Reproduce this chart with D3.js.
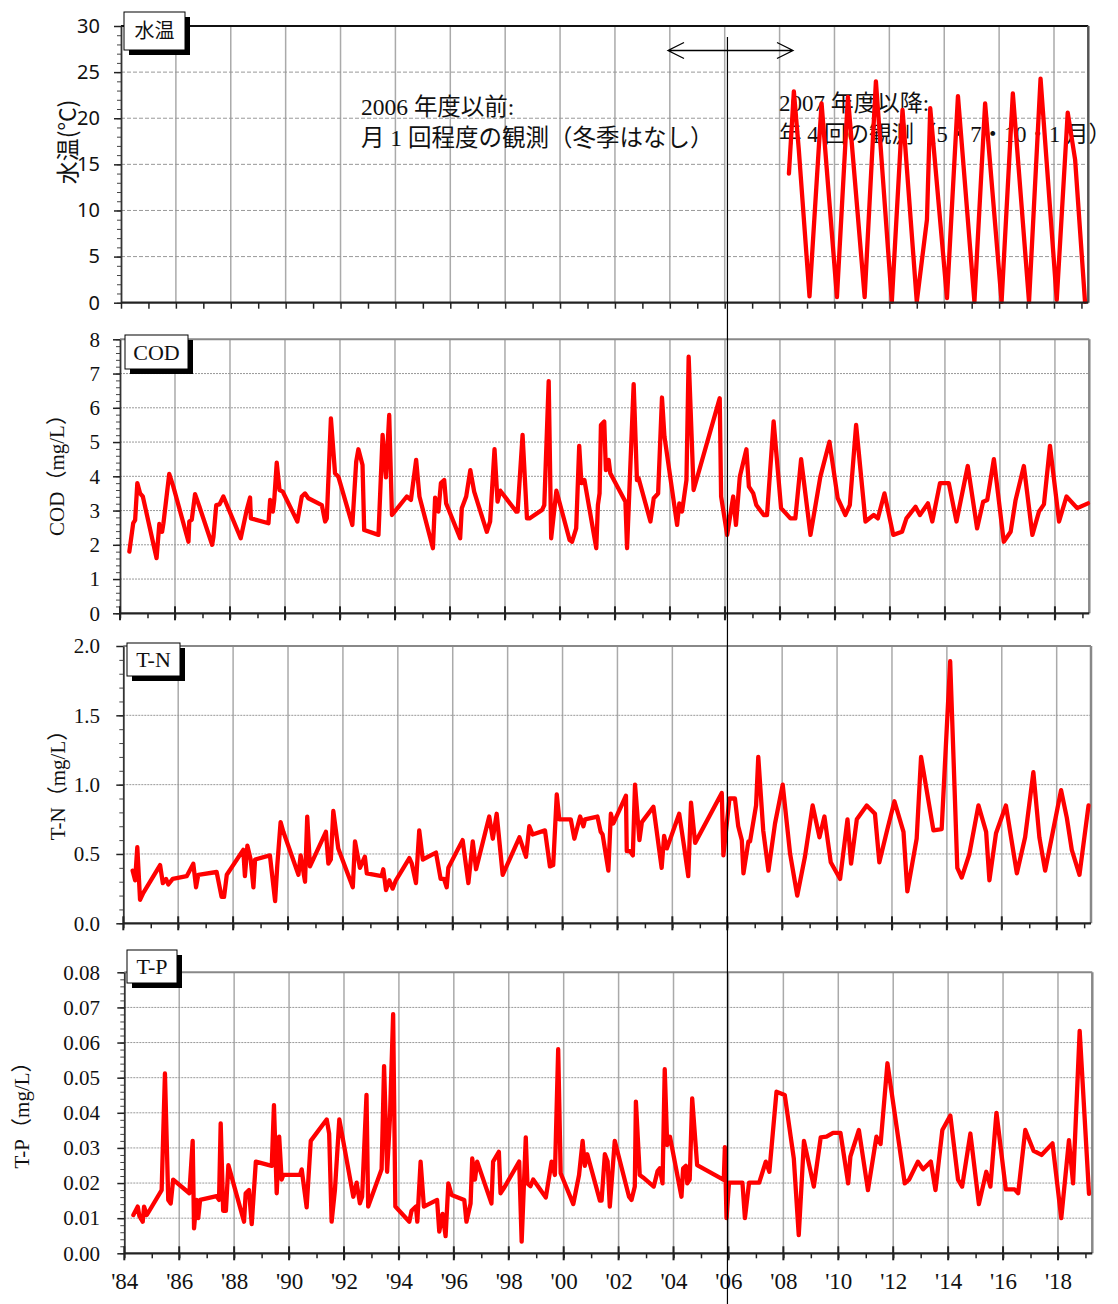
<!DOCTYPE html>
<html>
<head>
<meta charset="utf-8">
<script src="https://cdn.jsdelivr.net/npm/d3@7"></script>
<style>
  body { margin: 0; background: #fff; }
</style>
</head>
<body>
<svg id="chart" width="1118" height="1304"></svg>
<script>
// x tick labels (every 2 years)
const xTickYears = d3.range(1984, 2019, 2);
const xTickLabels = ["'84", "'86", "'88", "'90", "'92", "'94", "'96", "'98", "'00",
  "'02", "'04", "'06", "'08", "'10", "'12", "'14", "'16", "'18"];

// water temperature (only 2007 FY onward), [decimal year, value]
const waterTemp = [
  [2008.34, 14.0], [2008.52, 22.9], [2008.70, 16.6], [2009.09, 0.7], [2009.53, 21.6],
  [2010.09, 0.6], [2010.49, 22.3], [2011.10, 0.6], [2011.51, 24.0], [2012.09, 0.1],
  [2012.48, 20.9], [2013.00, 0.1], [2013.37, 9.0], [2013.49, 21.1], [2014.10, 0.5],
  [2014.50, 22.4], [2015.10, 0.1], [2015.49, 21.6], [2016.09, 0.1], [2016.50, 22.7],
  [2017.09, 0.1], [2017.51, 24.3], [2018.10, 0.3], [2018.50, 20.6], [2018.77, 15.5],
  [2019.13, 0.1]
];

// COD (mg/L)
const cod = [
  [1984.34, 1.80], [1984.48, 2.63], [1984.55, 2.72], [1984.63, 3.80], [1984.73, 3.50],
  [1984.83, 3.41], [1985.33, 1.61], [1985.43, 2.61], [1985.53, 2.38], [1985.58, 2.63],
  [1985.79, 4.07], [1985.94, 3.70], [1986.49, 2.09], [1986.52, 2.68], [1986.61, 2.73],
  [1986.73, 3.48], [1986.89, 3.11], [1987.35, 2.00], [1987.40, 2.24], [1987.50, 3.16],
  [1987.62, 3.18], [1987.76, 3.41], [1988.39, 2.19], [1988.61, 3.02], [1988.73, 3.38],
  [1988.76, 2.77], [1989.40, 2.63], [1989.46, 3.31], [1989.56, 2.97], [1989.61, 3.31],
  [1989.70, 4.40], [1989.80, 3.60], [1989.92, 3.55], [1990.45, 2.68], [1990.61, 3.41],
  [1990.73, 3.50], [1990.85, 3.36], [1991.34, 3.16], [1991.46, 2.68], [1991.52, 2.77],
  [1991.67, 5.69], [1991.82, 4.09], [1991.94, 3.99], [1992.45, 2.58], [1992.59, 4.43],
  [1992.67, 4.79], [1992.82, 4.33], [1992.88, 2.43], [1993.40, 2.29], [1993.55, 5.21],
  [1993.67, 3.97], [1993.79, 5.79], [1993.89, 2.87], [1994.43, 3.41], [1994.58, 3.31],
  [1994.77, 4.48], [1994.89, 3.41], [1995.38, 1.90], [1995.46, 3.38], [1995.58, 2.97],
  [1995.67, 3.80], [1995.79, 3.89], [1995.86, 3.21], [1996.37, 2.19], [1996.43, 3.07],
  [1996.59, 3.41], [1996.74, 4.18], [1996.88, 3.55], [1997.34, 2.38], [1997.46, 2.68],
  [1997.62, 4.79], [1997.73, 3.26], [1997.83, 3.58], [1998.41, 2.97], [1998.46, 2.97],
  [1998.64, 5.21], [1998.80, 2.77], [1998.89, 2.77], [1999.35, 3.02], [1999.43, 3.16],
  [1999.59, 6.78], [1999.68, 2.19], [1999.87, 3.58], [2000.35, 2.14], [2000.44, 2.09],
  [2000.59, 2.48], [2000.70, 4.89], [2000.78, 3.80], [2000.89, 3.89], [2001.32, 1.90],
  [2001.38, 3.16], [2001.44, 3.50], [2001.49, 5.50], [2001.61, 5.60], [2001.67, 4.18],
  [2001.77, 4.48], [2001.83, 4.09], [2002.38, 3.26], [2002.44, 1.90], [2002.68, 6.69],
  [2002.80, 3.89], [2002.86, 3.94], [2003.29, 2.68], [2003.41, 3.36], [2003.57, 3.50],
  [2003.71, 6.30], [2003.80, 5.16], [2004.26, 2.58], [2004.34, 3.21], [2004.44, 2.97],
  [2004.60, 3.89], [2004.68, 7.49], [2004.86, 3.60], [2005.81, 6.28], [2005.86, 3.41],
  [2006.08, 2.29], [2006.30, 3.41], [2006.40, 2.58], [2006.54, 3.99], [2006.78, 4.79],
  [2006.87, 3.70], [2007.03, 3.50], [2007.14, 3.16], [2007.41, 2.87], [2007.53, 2.87],
  [2007.77, 5.60], [2008.04, 3.07], [2008.38, 2.77], [2008.56, 2.77], [2008.77, 4.50],
  [2009.11, 2.29], [2009.47, 3.99], [2009.80, 5.01], [2010.10, 3.36], [2010.38, 2.87],
  [2010.54, 3.16], [2010.77, 5.50], [2011.11, 2.68], [2011.41, 2.87], [2011.56, 2.77],
  [2011.80, 3.50], [2012.12, 2.29], [2012.44, 2.38], [2012.60, 2.77], [2012.93, 3.11],
  [2013.09, 2.87], [2013.38, 3.21], [2013.54, 2.68], [2013.82, 3.80], [2014.14, 3.80],
  [2014.42, 2.68], [2014.83, 4.30], [2015.17, 2.48], [2015.39, 3.26], [2015.54, 3.31],
  [2015.78, 4.50], [2016.14, 2.09], [2016.39, 2.38], [2016.57, 3.31], [2016.87, 4.30],
  [2017.18, 2.29], [2017.42, 2.97], [2017.60, 3.18], [2017.82, 4.89], [2018.15, 2.68],
  [2018.42, 3.41], [2018.81, 3.07], [2019.20, 3.21]
];

// T-N (mg/L)
const tn = [
  [1984.34, 0.38], [1984.43, 0.31], [1984.51, 0.55], [1984.61, 0.17], [1984.73, 0.22],
  [1985.34, 0.42], [1985.44, 0.29], [1985.56, 0.32], [1985.64, 0.28], [1985.80, 0.32],
  [1986.31, 0.34], [1986.55, 0.43], [1986.65, 0.26], [1986.73, 0.35], [1987.40, 0.37],
  [1987.58, 0.19], [1987.67, 0.19], [1987.77, 0.35], [1988.37, 0.53], [1988.43, 0.34],
  [1988.52, 0.56], [1988.64, 0.46], [1988.74, 0.26], [1988.80, 0.46], [1989.34, 0.49],
  [1989.53, 0.16], [1989.61, 0.42], [1989.73, 0.73], [1989.83, 0.66], [1990.38, 0.35],
  [1990.46, 0.49], [1990.62, 0.30], [1990.70, 0.77], [1990.80, 0.41], [1991.38, 0.66],
  [1991.47, 0.43], [1991.56, 0.46], [1991.65, 0.81], [1991.83, 0.54], [1992.36, 0.26],
  [1992.44, 0.59], [1992.62, 0.40], [1992.80, 0.48], [1992.87, 0.36], [1993.41, 0.34],
  [1993.47, 0.39], [1993.57, 0.24], [1993.69, 0.31], [1993.81, 0.25], [1993.93, 0.31],
  [1994.42, 0.47], [1994.51, 0.43], [1994.66, 0.29], [1994.78, 0.67], [1994.91, 0.46],
  [1995.39, 0.51], [1995.56, 0.32], [1995.68, 0.32], [1995.78, 0.26], [1995.84, 0.40],
  [1996.36, 0.60], [1996.57, 0.29], [1996.73, 0.59], [1996.85, 0.39], [1997.33, 0.77],
  [1997.46, 0.61], [1997.60, 0.79], [1997.82, 0.35], [1998.43, 0.62], [1998.67, 0.48],
  [1998.79, 0.70], [1998.91, 0.64], [1999.36, 0.67], [1999.54, 0.41], [1999.66, 0.42],
  [1999.79, 0.93], [1999.88, 0.75], [2000.30, 0.75], [2000.43, 0.61], [2000.64, 0.77],
  [2000.76, 0.70], [2000.82, 0.75], [2001.27, 0.77], [2001.39, 0.66], [2001.46, 0.64],
  [2001.67, 0.38], [2001.76, 0.79], [2001.85, 0.72], [2002.31, 0.92], [2002.34, 0.52],
  [2002.46, 0.52], [2002.56, 0.49], [2002.64, 1.00], [2002.80, 0.60], [2002.89, 0.73],
  [2003.31, 0.84], [2003.61, 0.40], [2003.70, 0.63], [2003.80, 0.54], [2004.25, 0.79],
  [2004.43, 0.55], [2004.58, 0.34], [2004.68, 0.87], [2004.83, 0.58], [2005.80, 0.94],
  [2005.86, 0.49], [2006.08, 0.90], [2006.28, 0.90], [2006.40, 0.70], [2006.53, 0.60],
  [2006.59, 0.36], [2006.77, 0.59], [2006.83, 0.59], [2007.05, 0.85], [2007.13, 1.20],
  [2007.31, 0.67], [2007.50, 0.38], [2007.74, 0.72], [2008.02, 1.00], [2008.29, 0.50],
  [2008.55, 0.20], [2008.83, 0.48], [2009.11, 0.85], [2009.36, 0.62], [2009.54, 0.77],
  [2009.77, 0.44], [2010.11, 0.32], [2010.38, 0.75], [2010.51, 0.43], [2010.72, 0.75],
  [2011.08, 0.85], [2011.38, 0.79], [2011.54, 0.44], [2011.81, 0.66], [2012.09, 0.88],
  [2012.42, 0.66], [2012.56, 0.23], [2012.90, 0.61], [2013.06, 1.20], [2013.51, 0.67],
  [2013.81, 0.68], [2014.12, 1.89], [2014.38, 0.40], [2014.54, 0.33], [2014.82, 0.50],
  [2015.15, 0.85], [2015.43, 0.66], [2015.55, 0.31], [2015.79, 0.65], [2016.15, 0.85],
  [2016.55, 0.36], [2016.85, 0.62], [2017.15, 1.09], [2017.37, 0.62], [2017.58, 0.38],
  [2017.88, 0.68], [2018.16, 0.96], [2018.37, 0.76], [2018.55, 0.53], [2018.83, 0.35],
  [2019.16, 0.85]
];

// T-P (mg/L)
const tp = [
  [1984.33, 0.0109], [1984.49, 0.0133], [1984.55, 0.0106], [1984.67, 0.0090], [1984.72, 0.0133],
  [1984.82, 0.0109], [1985.36, 0.0180], [1985.48, 0.0512], [1985.60, 0.0152], [1985.69, 0.0142],
  [1985.78, 0.0210], [1986.37, 0.0171], [1986.49, 0.0320], [1986.54, 0.0071], [1986.63, 0.0152],
  [1986.69, 0.0100], [1986.76, 0.0152], [1987.36, 0.0163], [1987.45, 0.0152], [1987.51, 0.0370],
  [1987.60, 0.0121], [1987.70, 0.0121], [1987.79, 0.0251], [1988.36, 0.0090], [1988.42, 0.0171],
  [1988.54, 0.0180], [1988.64, 0.0083], [1988.79, 0.0261], [1989.37, 0.0249], [1989.45, 0.0422],
  [1989.55, 0.0171], [1989.64, 0.0332], [1989.73, 0.0210], [1989.79, 0.0223], [1990.40, 0.0223],
  [1990.46, 0.0239], [1990.64, 0.0131], [1990.79, 0.0320], [1991.37, 0.0381], [1991.46, 0.0341],
  [1991.55, 0.0090], [1991.67, 0.0180], [1991.83, 0.0381], [1992.34, 0.0161], [1992.46, 0.0201],
  [1992.58, 0.0142], [1992.66, 0.0161], [1992.82, 0.0451], [1992.88, 0.0133], [1993.37, 0.0239],
  [1993.46, 0.0533], [1993.57, 0.0232], [1993.67, 0.0379], [1993.79, 0.0681], [1993.87, 0.0133],
  [1994.38, 0.0090], [1994.46, 0.0121], [1994.62, 0.0133], [1994.67, 0.0090], [1994.79, 0.0261],
  [1994.91, 0.0133], [1995.39, 0.0152], [1995.47, 0.0062], [1995.59, 0.0112], [1995.70, 0.0049],
  [1995.80, 0.0199], [1995.92, 0.0166], [1996.38, 0.0152], [1996.46, 0.0090], [1996.61, 0.0142],
  [1996.67, 0.0270], [1996.77, 0.0210], [1996.85, 0.0261], [1997.37, 0.0142], [1997.43, 0.0261],
  [1997.64, 0.0289], [1997.70, 0.0171], [1997.82, 0.0185], [1998.38, 0.0261], [1998.47, 0.0033],
  [1998.62, 0.0330], [1998.68, 0.0199], [1998.79, 0.0191], [1998.89, 0.0210], [1999.35, 0.0159],
  [1999.56, 0.0261], [1999.68, 0.0223], [1999.80, 0.0581], [1999.89, 0.0228], [2000.35, 0.0140],
  [2000.56, 0.0223], [2000.69, 0.0320], [2000.77, 0.0249], [2000.86, 0.0282], [2001.32, 0.0150],
  [2001.38, 0.0150], [2001.50, 0.0282], [2001.60, 0.0261], [2001.68, 0.0133], [2001.86, 0.0320],
  [2002.38, 0.0161], [2002.47, 0.0152], [2002.59, 0.0190], [2002.63, 0.0432], [2002.77, 0.0223],
  [2002.89, 0.0216], [2003.28, 0.0190], [2003.42, 0.0234], [2003.50, 0.0242], [2003.60, 0.0199],
  [2003.68, 0.0524], [2003.77, 0.0308], [2003.87, 0.0332], [2004.29, 0.0161], [2004.35, 0.0242],
  [2004.45, 0.0249], [2004.50, 0.0199], [2004.59, 0.0210], [2004.68, 0.0441], [2004.86, 0.0251],
  [2005.83, 0.0209], [2005.87, 0.0302], [2005.93, 0.0100], [2006.02, 0.0201], [2006.51, 0.0201],
  [2006.60, 0.0100], [2006.75, 0.0201], [2007.12, 0.0201], [2007.36, 0.0261], [2007.49, 0.0232],
  [2007.75, 0.0460], [2008.05, 0.0451], [2008.38, 0.0270], [2008.56, 0.0052], [2008.75, 0.0320],
  [2009.11, 0.0190], [2009.36, 0.0330], [2009.57, 0.0332], [2009.81, 0.0343], [2010.08, 0.0343],
  [2010.36, 0.0199], [2010.44, 0.0275], [2010.75, 0.0351], [2011.08, 0.0180], [2011.39, 0.0332],
  [2011.54, 0.0311], [2011.79, 0.0541], [2012.42, 0.0199], [2012.58, 0.0210], [2012.90, 0.0261],
  [2013.09, 0.0239], [2013.37, 0.0261], [2013.54, 0.0180], [2013.79, 0.0351], [2014.08, 0.0392],
  [2014.36, 0.0210], [2014.51, 0.0190], [2014.81, 0.0341], [2015.12, 0.0140], [2015.39, 0.0232],
  [2015.54, 0.0190], [2015.76, 0.0400], [2016.10, 0.0182], [2016.42, 0.0182], [2016.55, 0.0171],
  [2016.81, 0.0351], [2017.11, 0.0292], [2017.40, 0.0280], [2017.80, 0.0313], [2018.12, 0.0100],
  [2018.40, 0.0322], [2018.55, 0.0199], [2018.79, 0.0633], [2019.13, 0.0169]
];

const serif = "'Liberation Serif', 'Noto Sans CJK JP', serif";
const svg = d3.select("#chart");

const panels = [
  { name: "水温", data: waterTemp, left: 121, right: 1088.3, top: 26, bottom: 302.7,
    ymax: 30, major: 5, minor: 1, fmt: d3.format("d"),
    tickFont: "'Noto Sans', sans-serif", tickSizeFont: 20,
    label: "水温(°C)", labelFont: "'Noto Sans CJK JP', sans-serif", labelX: 66, labelY: 142,
    labelSize: 23, box: [124, 12, 61, 38], dash: "4,2", frame: "#111" },
  { name: "COD", data: cod, left: 120, right: 1089.3, top: 339.3, bottom: 613.3,
    ymax: 8, major: 1, minor: 0.2, fmt: d3.format("d"),
    tickFont: serif, tickSizeFont: 21,
    label: "COD（mg/L）", labelFont: serif, labelX: 57, labelY: 470,
    labelSize: 21, box: [125, 335, 63, 34], dash: "2,1", frame: "#888" },
  { name: "T-N", data: tn, left: 123.3, right: 1091, top: 646, bottom: 923.3,
    ymax: 2, major: 0.5, minor: 0.1, fmt: d3.format(".1f"),
    tickFont: serif, tickSizeFont: 21,
    label: "T-N（mg/L）", labelFont: serif, labelX: 58, labelY: 780,
    labelSize: 21, box: [127, 643, 53, 33], dash: "2,1", frame: "#888" },
  { name: "T-P", data: tp, left: 124.3, right: 1092.3, top: 972.3, bottom: 1253.3,
    ymax: 0.08, major: 0.01, minor: 0.002, fmt: d3.format(".2f"),
    tickFont: serif, tickSizeFont: 21,
    label: "T-P（mg/L）", labelFont: serif, labelX: 22, labelY: 1110,
    labelSize: 21, box: [127, 950, 50, 33], dash: "2,1", frame: "#888" }
];

const xDomain = [1984, 2019.25];

panels.forEach((p, pi) => {
  const x = d3.scaleLinear().domain(xDomain).range([p.left, p.right]);
  const y = d3.scaleLinear().domain([0, p.ymax]).range([p.bottom, p.top]);
  const g = svg.append("g");

  const majors = d3.range(0, p.ymax + p.major / 2, p.major);
  const minors = d3.range(0, p.ymax + p.minor / 2, p.minor);

  // vertical grid (every 2 years)
  g.selectAll(".vgrid")
    .data(xTickYears.slice(1))
    .enter()
    .append("line")
    .attr("x1", (d) => x(d)).attr("x2", (d) => x(d))
    .attr("y1", p.top).attr("y2", p.bottom)
    .attr("stroke", "#aaa")
    .attr("stroke-width", 1.5);

  // horizontal grid
  g.selectAll(".hgrid")
    .data(majors.slice(1, -1))
    .enter()
    .append("line")
    .attr("x1", p.left).attr("x2", p.right)
    .attr("y1", (d) => y(d)).attr("y2", (d) => y(d))
    .attr("stroke", "#999")
    .attr("stroke-width", 1)
    .attr("stroke-dasharray", p.dash);

  // frame top / right
  g.append("line")
    .attr("x1", p.left).attr("x2", p.right)
    .attr("y1", p.top).attr("y2", p.top)
    .attr("stroke", p.frame).attr("stroke-width", 2);
  g.append("line")
    .attr("x1", p.right).attr("x2", p.right)
    .attr("y1", p.top).attr("y2", p.bottom)
    .attr("stroke", pi === 0 ? "#555" : "#888").attr("stroke-width", 2.5);

  // annotations for the temperature panel go under the line
  if (pi === 0) {
    const notes = [
      { x: 361, y: 115, t: "2006 年度以前:", s: 23.5 },
      { x: 361, y: 146, t: "月 1 回程度の観測（冬季はなし）", s: 23.5 },
      { x: 779, y: 111, t: "2007 年度以降:", s: 23 },
      { x: 779, y: 142, t: "年 4 回の観測（5・7・10・1 月）", s: 22.5 }
    ];
    g.selectAll(".note")
      .data(notes)
      .enter()
      .append("text")
      .attr("x", (d) => d.x)
      .attr("y", (d) => d.y)
      .attr("font-family", serif)
      .attr("font-size", (d) => d.s)
      .attr("fill", "#111")
      .text((d) => d.t);
  }

  // data line
  const line = d3.line().x((d) => x(d[0])).y((d) => y(d[1]));
  g.append("path")
    .datum(p.data)
    .attr("d", line)
    .attr("fill", "none")
    .attr("stroke", "#ff0000")
    .attr("stroke-width", 4.3)
    .attr("stroke-linejoin", "round")
    .attr("stroke-linecap", "round");

  // left axis: minor then major
  g.append("g")
    .attr("transform", `translate(${p.left},0)`)
    .call(d3.axisLeft(y).tickValues(minors).tickSize(4).tickFormat(""))
    .call((a) => a.select(".domain").remove())
    .call((a) => a.selectAll("line").attr("stroke", "#444"));

  const yAxis = g.append("g")
    .attr("transform", `translate(${p.left},0)`)
    .call(d3.axisLeft(y).tickValues(majors).tickSizeInner(7).tickSizeOuter(0)
      .tickPadding(p.left - 100 - 7).tickFormat(p.fmt));
  yAxis.select(".domain").attr("stroke", "#333").attr("stroke-width", 1.8);
  yAxis.selectAll("line").attr("stroke", "#222").attr("stroke-width", 1.5);
  yAxis.selectAll("text")
    .attr("font-family", p.tickFont)
    .attr("font-size", p.tickSizeFont)
    .attr("fill", "#111");

  // bottom axis: yearly minor ticks
  const xMinor = g.append("g")
    .attr("transform", `translate(0,${p.bottom})`)
    .call(d3.axisBottom(x).tickValues(d3.range(1984, 2020)).tickSizeInner(pi === 0 ? 6 : 5)
      .tickSizeOuter(0).tickFormat(""));
  xMinor.select(".domain").remove();
  xMinor.selectAll("line").attr("stroke", "#222").attr("stroke-width", 1.5);

  // major ticks crossing the axis
  if (pi > 0) {
    g.selectAll(".xmaj")
      .data(xTickYears)
      .enter()
      .append("line")
      .attr("x1", (d) => x(d)).attr("x2", (d) => x(d))
      .attr("y1", p.bottom - 7).attr("y2", p.bottom + 7)
      .attr("stroke", "#222").attr("stroke-width", 2);
  }

  g.append("line")
    .attr("x1", p.left).attr("x2", p.right)
    .attr("y1", p.bottom).attr("y2", p.bottom)
    .attr("stroke", "#222").attr("stroke-width", 2.2);

  // x labels only on the last panel
  if (pi === panels.length - 1) {
    const xa = g.append("g")
      .attr("transform", `translate(0,${p.bottom})`)
      .call(d3.axisBottom(x).tickValues(xTickYears).tickSize(0).tickPadding(19)
        .tickFormat((d, i) => xTickLabels[i]));
    xa.select(".domain").remove();
    xa.selectAll("text")
      .attr("font-family", serif)
      .attr("font-size", 23)
      .attr("fill", "#111");
  }

  // y axis title
  g.append("text")
    .attr("transform", `translate(${p.labelX},${p.labelY}) rotate(-90)`)
    .attr("text-anchor", "middle")
    .attr("dominant-baseline", "central")
    .attr("font-family", p.labelFont)
    .attr("font-size", p.labelSize)
    .attr("fill", "#111")
    .text(p.label);

  // label box with shadow
  const [bx, by, bw, bh] = p.box;
  g.append("rect")
    .attr("x", bx + 5).attr("y", by + 5)
    .attr("width", bw).attr("height", bh)
    .attr("fill", "#000");
  g.append("rect")
    .attr("x", bx).attr("y", by)
    .attr("width", bw).attr("height", bh)
    .attr("fill", "#fff")
    .attr("stroke", "#000")
    .attr("stroke-width", 1);
  g.append("text")
    .attr("x", bx + bw / 2)
    .attr("y", by + bh / 2)
    .attr("text-anchor", "middle")
    .attr("dominant-baseline", "central")
    .attr("font-family", serif)
    .attr("font-size", pi === 0 ? 20 : 22)
    .attr("fill", "#111")
    .text(p.name);
});

// divider at the start of FY2006/2007 and the double arrow
const xTop = d3.scaleLinear().domain(xDomain).range([panels[0].left, panels[0].right]);
const xDiv = xTop(2006.1);
svg.append("line")
  .attr("x1", xDiv).attr("x2", xDiv)
  .attr("y1", 37).attr("y2", 1304)
  .attr("stroke", "#000").attr("stroke-width", 1.2);

const ay = 50.5;
const ax0 = 668, ax1 = 793;
svg.append("path")
  .attr("d", `M${ax0},${ay}H${ax1}M${ax0 + 16},${ay - 8}L${ax0},${ay}L${ax0 + 16},${ay + 8}` +
    `M${ax1 - 16},${ay - 8}L${ax1},${ay}L${ax1 - 16},${ay + 8}`)
  .attr("fill", "none")
  .attr("stroke", "#000")
  .attr("stroke-width", 1.3);
</script>
</body>
</html>
